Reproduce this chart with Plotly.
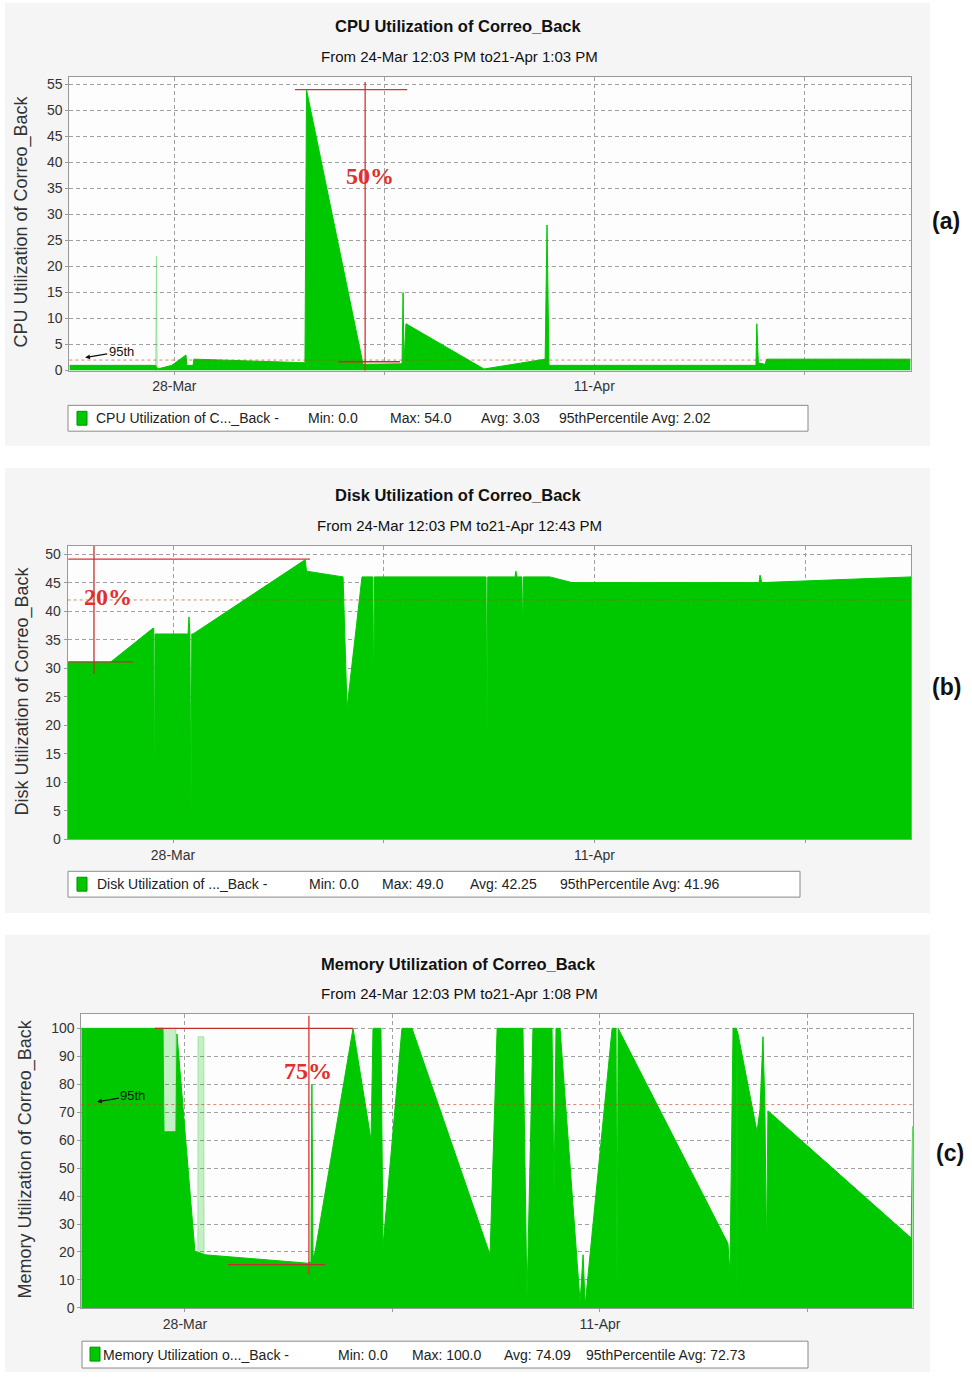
import plotly.graph_objects as go

W, H = 972, 1380
GREEN = "#00c800"
RED = "#e0302c"
DARKRED = "#c0302c"
FONT = "Liberation Sans, Arial, sans-serif"

# ---------------- data ----------------
cpu_time = ["2011-03-24 12:03", "2011-03-27 09:00", "2011-03-27 10:30",
            "2011-03-27 22:00", "2011-03-28 09:20", "2011-03-28 10:00", "2011-03-28 15:00",
            "2011-03-28 15:40", "2011-04-01 08:30", "2011-04-01 09:45", "2011-04-03 07:00",
            "2011-04-04 14:10", "2011-04-04 15:00", "2011-04-04 15:45", "2011-04-04 17:20",
            "2011-04-07 07:45", "2011-04-09 08:40", "2011-04-09 10:10", "2011-04-09 11:45",
            "2011-04-16 09:20", "2011-04-16 10:00", "2011-04-16 11:15", "2011-04-16 16:30",
            "2011-04-16 18:00", "2011-04-21 13:03"]
cpu_value = [1.0, 1.0, 0.3,
             1.0, 3.0, 1.0, 1.0,
             2.2, 1.5, 54, 1.2,
             1.3, 15, 1.5, 9,
             0.3, 2.2, 28, 1.0,
             1.0, 9, 1.5, 1.2,
             2.2, 2.2]

# faded (partially drawn) CPU sample
cpu_faded_time = ["2011-03-27 09:00", "2011-03-27 09:40", "2011-03-27 10:20"]
cpu_faded_value = [0, 22, 0]

disk_time = ["2011-03-24 12:03", "2011-03-25 21:50", "2011-03-27 08:00", "2011-03-27 08:40",
             "2011-03-27 09:10", "2011-03-27 09:40", "2011-03-28 12:00", "2011-03-28 12:45",
             "2011-03-28 13:30", "2011-03-28 14:15", "2011-03-28 15:00", "2011-03-28 16:00",
             "2011-04-01 09:20", "2011-04-01 10:30", "2011-04-02 15:35", "2011-04-02 18:45",
             "2011-04-03 06:40", "2011-04-03 15:20", "2011-04-03 16:00", "2011-04-03 16:40",
             "2011-04-07 09:35", "2011-04-07 10:15", "2011-04-07 10:55", "2011-04-08 08:40",
             "2011-04-08 09:25", "2011-04-08 10:10", "2011-04-08 14:10", "2011-04-08 14:50",
             "2011-04-08 15:30", "2011-04-09 12:30", "2011-04-10 06:10", "2011-04-16 11:15",
             "2011-04-16 12:00", "2011-04-16 13:30", "2011-04-21 12:43"]
disk_value = [31, 31, 37, 37,
              1, 36, 36, 39,
              36, 2, 36, 36,
              49, 47, 46, 23,
              46, 46, 25, 46,
              46, 17, 46, 46,
              47, 46, 46, 36,
              46, 46, 45, 45,
              46.3, 45, 46]

mem_time = ["2011-03-24 12:03", "2011-03-24 14:40", "2011-03-24 15:00", "2011-03-24 15:25",
            "2011-03-27 06:10", "2011-03-27 07:00", "2011-03-27 16:42", "2011-03-27 17:30",
            "2011-03-28 08:05", "2011-03-28 10:05", "2011-03-28 16:12", "2011-04-01 03:35",
            "2011-04-01 06:00", "2011-04-01 06:45", "2011-04-01 07:40", "2011-04-01 09:20",
            "2011-04-02 16:05", "2011-04-03 06:40", "2011-04-03 08:15", "2011-04-03 14:40",
            "2011-04-03 16:20", "2011-04-04 07:40", "2011-04-04 15:50", "2011-04-07 07:00",
            "2011-04-07 12:45", "2011-04-08 09:40", "2011-04-08 12:55", "2011-04-08 17:45",
            "2011-04-09 09:10", "2011-04-09 10:50", "2011-04-09 12:25", "2011-04-09 15:40",
            "2011-04-10 07:55", "2011-04-10 10:20", "2011-04-10 12:00", "2011-04-11 09:50",
            "2011-04-11 13:00", "2011-04-11 13:50", "2011-04-11 14:40", "2011-04-15 07:40",
            "2011-04-15 09:15", "2011-04-15 11:45", "2011-04-15 14:35", "2011-04-15 14:55",
            "2011-04-15 15:20", "2011-04-16 07:10", "2011-04-16 09:35", "2011-04-16 12:00",
            "2011-04-16 13:35", "2011-04-16 14:50", "2011-04-16 16:00", "2011-04-21 12:00",
            "2011-04-21 13:08"]
mem_value = [100, 100, 25, 100,
             100, 63, 63, 98,
             20, 20, 19, 16,
             16.5, 80, 18, 20,
             100, 60, 100, 100,
             22, 100, 100, 19,
             100, 100, 3, 100,
             100, 40, 100, 100,
             2, 19, 1, 100,
             100, 5, 100, 23,
             12, 100, 100, 2,
             99, 63, 71, 97,
             71, 20, 70.5, 25,
             65]

# faded (partially drawn) memory samples
mem_faded_time = ["2011-03-27 06:05", "2011-03-27 06:10", "2011-03-27 16:40", "2011-03-27 16:45",
                  "2011-03-28 10:20", "2011-03-28 10:30", "2011-03-28 15:20", "2011-03-28 15:30"]
mem_faded_value = [0, 100, 100, 0,
                   0, 97, 97, 0]

week_ticks = ["2011-03-28", "2011-04-04", "2011-04-11", "2011-04-18"]
week_labels = ["28-Mar", "", "11-Apr", ""]

cpu_95th = 2.02
disk_95th = 41.96
mem_95th = 72.73

titles = ["CPU Utilization of Correo_Back", "Disk Utilization of Correo_Back",
          "Memory Utilization of Correo_Back"]
subtitles = ["From 24-Mar 12:03 PM to21-Apr 1:03 PM", "From 24-Mar 12:03 PM to21-Apr 12:43 PM",
             "From 24-Mar 12:03 PM to21-Apr 1:08 PM"]
legend_parts = [
    ["CPU Utilization of C..._Back -", "Min: 0.0", "Max: 54.0", "Avg: 3.03", "95thPercentile Avg: 2.02"],
    ["Disk Utilization of ..._Back -", "Min: 0.0", "Max: 49.0", "Avg: 42.25", "95thPercentile Avg: 41.96"],
    ["Memory Utilization o..._Back -", "Min: 0.0", "Max: 100.0", "Avg: 74.09", "95thPercentile Avg: 72.73"],
]
ranges_x = [["2011-03-24 12:03", "2011-04-21 13:03"],
            ["2011-03-24 12:03", "2011-04-21 12:43"],
            ["2011-03-24 12:03", "2011-04-21 13:08"]]


def fy(px):
    return 1 - px / H


def fx(px):
    return px / W


fig = go.Figure()

# faded samples first (underneath)
for t, v, xa, ya in [(cpu_faded_time, cpu_faded_value, "x", "y"),
                     (mem_faded_time, mem_faded_value, "x3", "y3")]:
    fig.add_trace(go.Scatter(x=t, y=v, mode="lines", fill="tozeroy",
                             line=dict(color="rgba(0,190,0,0.25)", width=1),
                             fillcolor="rgba(0,190,0,0.22)", xaxis=xa, yaxis=ya,
                             showlegend=False, hoverinfo="skip"))
for t, v, xa, ya in [(cpu_time, cpu_value, "x", "y"),
                     (disk_time, disk_value, "x2", "y2"),
                     (mem_time, mem_value, "x3", "y3")]:
    fig.add_trace(go.Scatter(x=t, y=v, mode="lines", fill="tozeroy",
                             line=dict(color=GREEN, width=1), fillcolor=GREEN,
                             xaxis=xa, yaxis=ya, showlegend=False))

# panel geometry in pixels: (x_left, x_right, y_bottom, y_top)
geo = [(69.4, 910.6, 372.0, 76.7),
       (67.7, 911.4, 844.0, 548.3),
       (81.3, 912.6, 1315.5, 1020.0)]
yranges = [[0, 56.4], [0, 51.46], [0, 105]]
ydticks = [5, 5, 10]

grid = dict(showgrid=True, gridcolor="#a0a0a0", gridwidth=1, griddash="4px,3px")
axis_common = dict(showline=True, linecolor="#9a9a9a", linewidth=1, mirror=True,
                   zeroline=False, ticks="outside", ticklen=3, tickcolor="#9a9a9a",
                   tickfont=dict(family=FONT, size=14, color="#333333"))

layout_axes = {}
for i, (xl, xr, yb, yt) in enumerate(geo):
    sfx = "" if i == 0 else str(i + 1)
    layout_axes["xaxis" + sfx] = dict(domain=[fx(xl), fx(xr)], anchor="y" + sfx, type="date",
                                      range=ranges_x[i], tickvals=week_ticks, ticktext=week_labels,
                                      **grid, **axis_common)
    layout_axes["yaxis" + sfx] = dict(domain=[fy(yb), fy(yt)], anchor="x" + sfx, range=yranges[i],
                                      dtick=ydticks[i], tick0=0, **grid, **axis_common)

shapes = []
# panel backgrounds
for (y0, y1) in [(2, 448), (470, 918), (940, 1380)]:
    shapes.append(dict(type="rect", xref="paper", yref="paper", x0=fx(5), x1=fx(930),
                       y0=fy(y1), y1=fy(y0), fillcolor="#f5f5f5", line=dict(width=0), layer="below"))
for (xl, xr, yb, yt) in geo:
    shapes.append(dict(type="rect", xref="paper", yref="paper", x0=fx(xl), x1=fx(xr),
                       y0=fy(yb), y1=fy(yt), fillcolor="#fdfdfd", line=dict(width=0), layer="below"))

# 95th percentile lines
for ya, v in [("y", cpu_95th), ("y2", disk_95th), ("y3", mem_95th)]:
    xa = "x" + ya[1:]
    shapes.append(dict(type="line", xref=xa + " domain", yref=ya, x0=0, x1=1, y0=v, y1=v,
                       line=dict(color="rgba(190,70,40,0.65)", width=1, dash="3px,3px")))

# red measurement marks
red_lines = [
    # panel a
    ("x", "y", "2011-04-01 00:30", 54, "2011-04-04 18:15", 54, RED),
    ("x", "y", "2011-04-03 08:40", 55.5, "2011-04-03 08:40", -0.2, RED),
    ("x", "y", "2011-04-02 11:00", 1.7, "2011-04-04 12:30", 1.7, DARKRED),
    # panel b
    ("x2", "y2", "2011-03-24 12:30", 49.1, "2011-04-01 13:10", 49.1, RED),
    ("x2", "y2", "2011-03-25 09:00", 51.4, "2011-03-25 09:00", 29.0, DARKRED),
    ("x2", "y2", "2011-03-24 12:30", 31.1, "2011-03-26 16:00", 31.1, DARKRED),
    # panel c
    ("x3", "y3", "2011-03-26 23:40", 100, "2011-04-02 16:00", 100, DARKRED),
    ("x3", "y3", "2011-04-01 04:20", 104.5, "2011-04-01 04:20", 12, RED),
    ("x3", "y3", "2011-03-29 10:50", 15.5, "2011-04-01 17:20", 15.5, DARKRED),
]
for xa, ya, x0, y0, x1, y1, c in red_lines:
    shapes.append(dict(type="line", xref=xa, yref=ya, x0=x0, y0=y0, x1=x1, y1=y1,
                       line=dict(color=c, width=1.3)))

# legend boxes: (x0, x1, y0, y1), square left, text segment left positions
legend_boxes = [(68, 808, 407, 433), (68, 800, 876, 902), (82, 808, 1349, 1376)]
legend_square_x = [77, 77, 90]
legend_part_x = [[94, 306, 388, 479, 557],
                 [95, 307, 380, 468, 558],
                 [101, 336, 410, 502, 584]]
for i, (x0, x1, y0, y1) in enumerate(legend_boxes):
    shapes.append(dict(type="rect", xref="paper", yref="paper", x0=fx(x0), x1=fx(x1),
                       y0=fy(y1), y1=fy(y0), fillcolor="#ffffff", line=dict(color="#8a8a8a", width=1)))
    sx = legend_square_x[i]
    shapes.append(dict(type="rect", xref="paper", yref="paper", x0=fx(sx), x1=fx(sx + 10),
                       y0=fy(y0 + 20), y1=fy(y0 + 6), fillcolor=GREEN, line=dict(color="#009000", width=1)))

annotations = []
CM = dict(xanchor="center", yanchor="middle")
title_y = [(25, 56), (497, 528), (969, 999)]
for i in range(3):
    annotations.append(dict(text="<b>" + titles[i] + "</b>", x=fx(458), y=fy(title_y[i][0]),
                            xref="paper", yref="paper", showarrow=False, **CM,
                            font=dict(family=FONT, size=16.5, color="#111111")))
    annotations.append(dict(text=subtitles[i], x=fx(459), y=fy(title_y[i][1]),
                            xref="paper", yref="paper", showarrow=False, **CM,
                            font=dict(family=FONT, size=15, color="#111111")))
    (x0, x1, y0, y1) = legend_boxes[i]
    for txt, px in zip(legend_parts[i], legend_part_x[i]):
        annotations.append(dict(text=txt, x=fx(px), y=fy((y0 + y1) / 2), xref="paper", yref="paper",
                                showarrow=False, xanchor="left", yanchor="middle",
                                font=dict(family=FONT, size=14, color="#222222")))

for txt, xp, yp in [("CPU Utilization of Correo_Back", 22, 222),
                    ("Disk Utilization of Correo_Back", 22, 695),
                    ("Memory Utilization of Correo_Back", 25, 1166)]:
    annotations.append(dict(text=txt, x=fx(xp), y=fy(yp), xref="paper", yref="paper",
                            showarrow=False, textangle=-90, **CM,
                            font=dict(family=FONT, size=18, color="#333333")))

for txt, xp, yp in [("(a)", 946, 221), ("(b)", 946, 690), ("(c)", 950, 1160)]:
    annotations.append(dict(text="<b>" + txt + "</b>", x=fx(xp), y=fy(yp), xref="paper", yref="paper",
                            showarrow=False, **CM, font=dict(family=FONT, size=23, color="#111111")))

# percentage labels
for txt, xa, ya, xv, yv in [("50%", "x", "y", "2011-04-03 12:30", 37.4),
                            ("20%", "x2", "y2", "2011-03-25 20:10", 42.4),
                            ("75%", "x3", "y3", "2011-04-01 04:00", 84.7)]:
    annotations.append(dict(text="<b>" + txt + "</b>", x=xv, y=yv, xref=xa, yref=ya, showarrow=False,
                            **CM,
                            font=dict(family="Liberation Serif, Times New Roman, serif", size=24, color=RED)))

# 95th markers
for xa, ya, xv, yv in [("x", "y", "2011-03-25 00:40", 2.5), ("x3", "y3", "2011-03-25 00:45", 73.7)]:
    annotations.append(dict(text="95th", x=xv, y=yv, xref=xa, yref=ya, showarrow=True,
                            arrowhead=2, arrowsize=0.8, arrowwidth=1.2, arrowcolor="#111111",
                            ax=36, ay=-6, font=dict(family=FONT, size=13, color="#111111")))

fig.update_layout(width=W, height=H, autosize=False,
                  margin=dict(l=0, r=0, t=0, b=0),
                  paper_bgcolor="#ffffff", plot_bgcolor="rgba(0,0,0,0)",
                  showlegend=False, shapes=shapes, annotations=annotations,
                  **layout_axes)

fig.write_html("out.html", config={"displayModeBar": False},
               post_script="document.body.style.margin='0';document.body.style.overflow='hidden';")
